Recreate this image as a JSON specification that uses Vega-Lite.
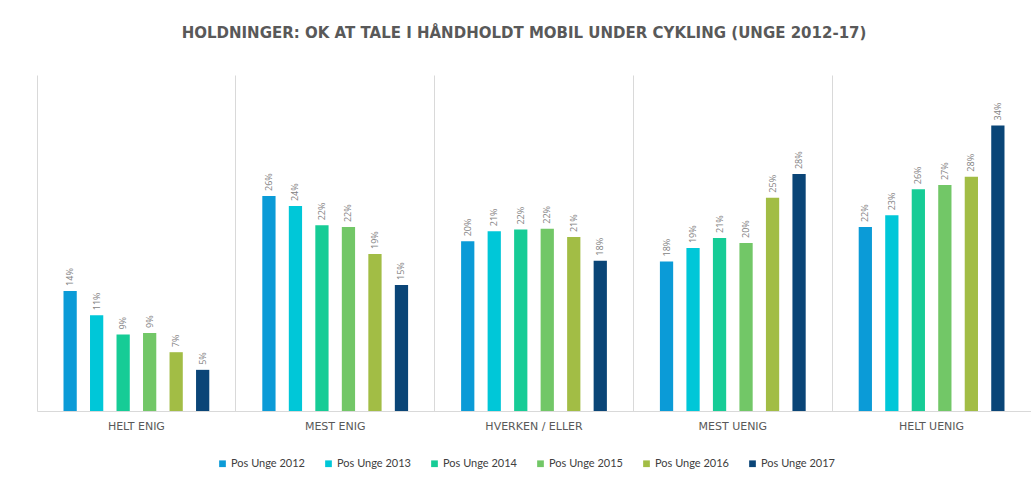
{
  "$schema": "https://vega.github.io/schema/vega-lite/v6.json",
  "width": 994,
  "height": 336,
  "autosize": {"type": "none"},
  "padding": {"left": 37, "top": 75, "right": 0, "bottom": 67},
  "background": "white",
  "title": {
    "text": "HOLDNINGER: OK AT TALE I HÅNDHOLDT MOBIL UNDER CYKLING (UNGE 2012-17)",
    "font": "DejaVu Sans",
    "fontSize": 15,
    "fontWeight": "bold",
    "color": "#595959",
    "anchor": "middle",
    "dx": -10,
    "offset": 34
  },
  "data": {
    "values": [
      {"kategori": "HELT ENIG", "serie": "Pos Unge 2012", "andel": 0.143},
      {"kategori": "HELT ENIG", "serie": "Pos Unge 2013", "andel": 0.114},
      {"kategori": "HELT ENIG", "serie": "Pos Unge 2014", "andel": 0.091},
      {"kategori": "HELT ENIG", "serie": "Pos Unge 2015", "andel": 0.093},
      {"kategori": "HELT ENIG", "serie": "Pos Unge 2016", "andel": 0.070},
      {"kategori": "HELT ENIG", "serie": "Pos Unge 2017", "andel": 0.049},
      {"kategori": "MEST ENIG", "serie": "Pos Unge 2012", "andel": 0.256},
      {"kategori": "MEST ENIG", "serie": "Pos Unge 2013", "andel": 0.244},
      {"kategori": "MEST ENIG", "serie": "Pos Unge 2014", "andel": 0.221},
      {"kategori": "MEST ENIG", "serie": "Pos Unge 2015", "andel": 0.219},
      {"kategori": "MEST ENIG", "serie": "Pos Unge 2016", "andel": 0.187},
      {"kategori": "MEST ENIG", "serie": "Pos Unge 2017", "andel": 0.150},
      {"kategori": "HVERKEN / ELLER", "serie": "Pos Unge 2012", "andel": 0.202},
      {"kategori": "HVERKEN / ELLER", "serie": "Pos Unge 2013", "andel": 0.214},
      {"kategori": "HVERKEN / ELLER", "serie": "Pos Unge 2014", "andel": 0.216},
      {"kategori": "HVERKEN / ELLER", "serie": "Pos Unge 2015", "andel": 0.217},
      {"kategori": "HVERKEN / ELLER", "serie": "Pos Unge 2016", "andel": 0.207},
      {"kategori": "HVERKEN / ELLER", "serie": "Pos Unge 2017", "andel": 0.179},
      {"kategori": "MEST UENIG", "serie": "Pos Unge 2012", "andel": 0.178},
      {"kategori": "MEST UENIG", "serie": "Pos Unge 2013", "andel": 0.194},
      {"kategori": "MEST UENIG", "serie": "Pos Unge 2014", "andel": 0.206},
      {"kategori": "MEST UENIG", "serie": "Pos Unge 2015", "andel": 0.200},
      {"kategori": "MEST UENIG", "serie": "Pos Unge 2016", "andel": 0.254},
      {"kategori": "MEST UENIG", "serie": "Pos Unge 2017", "andel": 0.282},
      {"kategori": "HELT UENIG", "serie": "Pos Unge 2012", "andel": 0.219},
      {"kategori": "HELT UENIG", "serie": "Pos Unge 2013", "andel": 0.233},
      {"kategori": "HELT UENIG", "serie": "Pos Unge 2014", "andel": 0.264},
      {"kategori": "HELT UENIG", "serie": "Pos Unge 2015", "andel": 0.269},
      {"kategori": "HELT UENIG", "serie": "Pos Unge 2016", "andel": 0.279},
      {"kategori": "HELT UENIG", "serie": "Pos Unge 2017", "andel": 0.340}
    ]
  },
  "encoding": {
    "x": {
      "field": "kategori",
      "type": "nominal",
      "sort": null,
      "scale": {"paddingInner": 0, "paddingOuter": 0},
      "axis": {
        "title": null,
        "labelAngle": 0,
        "labelFont": "DejaVu Sans",
        "labelFontSize": 11,
        "labelColor": "#595959",
        "labelPadding": 9,
        "ticks": false,
        "domain": true,
        "domainColor": "#d9d9d9",
        "grid": true,
        "gridColor": "#d9d9d9",
        "bandPosition": 0
      }
    },
    "xOffset": {
      "field": "serie",
      "type": "nominal",
      "scale": {"paddingInner": 0.5, "paddingOuter": 1.2}
    },
    "y": {
      "field": "andel",
      "type": "quantitative",
      "scale": {"domain": [0, 0.4]},
      "axis": null
    }
  },
  "layer": [
    {
      "mark": {"type": "bar"},
      "encoding": {
        "color": {
          "field": "serie",
          "type": "nominal",
          "scale": {
            "domain": ["Pos Unge 2012", "Pos Unge 2013", "Pos Unge 2014", "Pos Unge 2015", "Pos Unge 2016", "Pos Unge 2017"],
            "range": ["#0b9bd7", "#00c7d8", "#16cc96", "#72c767", "#a2bd45", "#0a4577"]
          },
          "legend": {
            "title": null,
            "orient": "none",
            "legendX": 180,
            "legendY": 383,
            "direction": "horizontal",
            "symbolType": "square",
            "symbolSize": 45,
            "symbolStrokeWidth": 0,
            "labelFont": "Lato",
            "labelFontSize": 11,
            "labelColor": "#404040",
            "labelOffset": 3,
            "columnPadding": 18,
            "symbolOffset": 0
          }
        }
      }
    },
    {
      "mark": {
        "type": "text",
        "angle": 270,
        "align": "left",
        "baseline": "middle",
        "dx": 5,
        "font": "Open Sans",
        "fontSize": 9,
        "color": "#7f7f7f"
      },
      "encoding": {
        "text": {"field": "andel", "type": "quantitative", "format": ".0%"}
      }
    }
  ],
  "config": {
    "view": {"stroke": null}
  }
}
